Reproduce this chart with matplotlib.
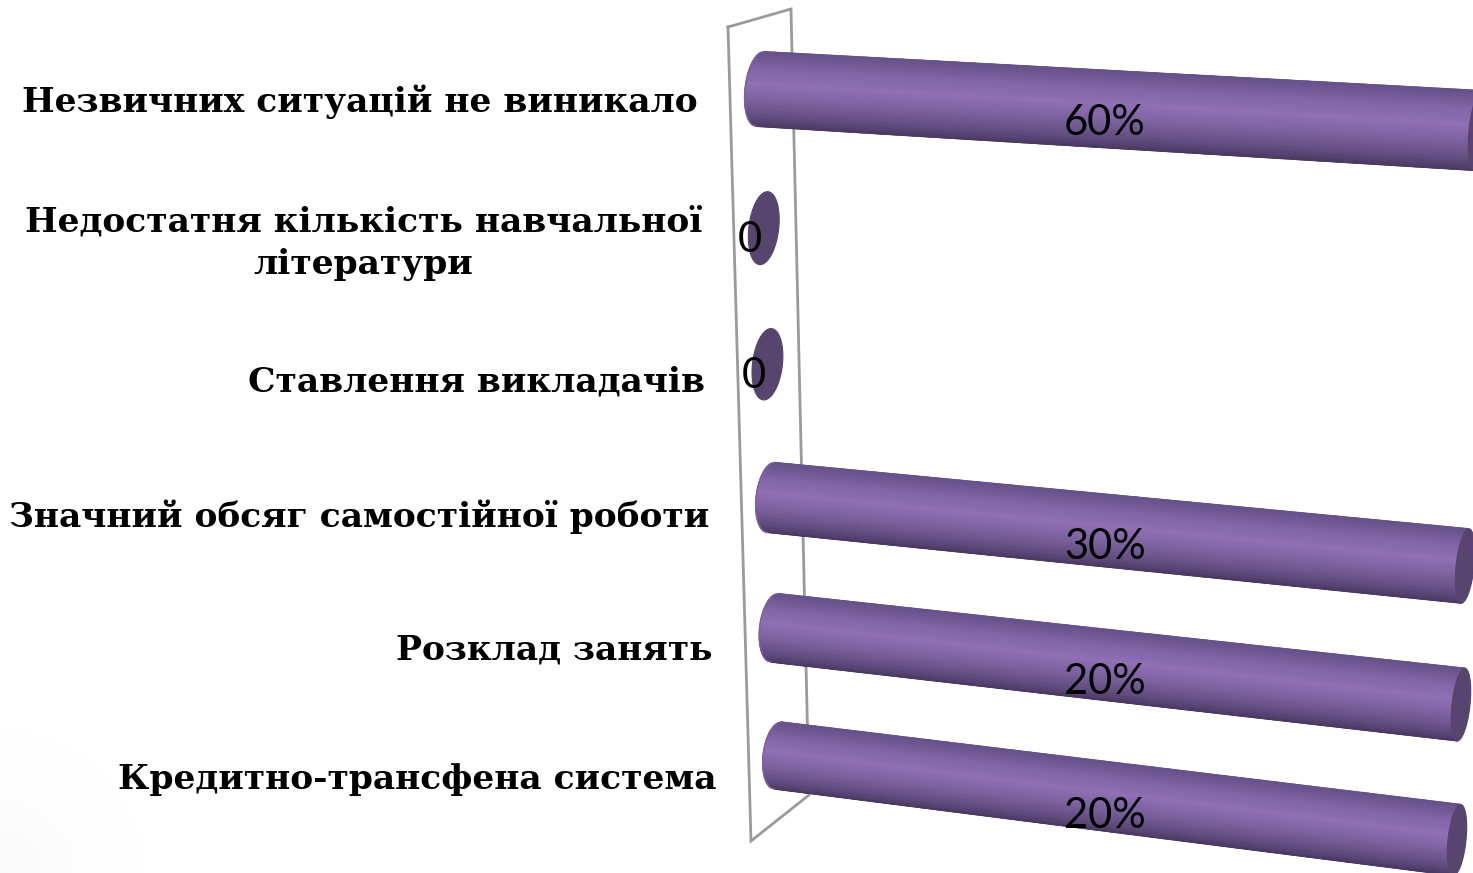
import numpy as np
import matplotlib
matplotlib.use("Agg")
import matplotlib.pyplot as plt
from matplotlib.colors import LinearSegmentedColormap

# top to bottom, same order as the slide
categories = [
    "Незвичних ситуацій не виникало",
    "Недостатня кількість навчальної\nлітератури",
    "Ставлення викладачів",
    "Значний обсяг самостійної роботи",
    "Розклад занять",
    "Кредитно-трансфена система",
]
values = [0.60, 0.0, 0.0, 0.30, 0.20, 0.20]
value_labels = ["60%", "0", "0", "30%", "20%", "20%"]

# the value axis stops at 20%, so longer bars get cut off there
AXIS_MAX = 0.2
N_ROWS = len(categories)

# where the corners of the 3d plot land on the picture: (share of axis, row) -> pixels
CORNERS = {
    (0, 0): (778, 755.5),
    (1, 0): (1457, 840),
    (0, 5): (760, 89),
    (1, 5): (1478, 130.5),
}
WALL = [(728, 27), (791, 9), (809, 795), (751, 841), (728, 27)]
BAR_RADIUS = 0.265
TILT = 0.1
# how far each value label sits under the middle of its bar
LABEL_DROP = [14, 10, 10, 16, 17, 20]

body_cmap = LinearSegmentedColormap.from_list(
    "cyl",
    [(0.0, "#4a3a63"), (0.12, "#5f4b7c"), (0.35, "#7c619f"), (0.58, "#9170b5"),
     (0.8, "#8163a6"), (1.0, "#66528a")],
)


def homography(corners):
    a, b = [], []
    for (s, r), (x, y) in corners.items():
        a.append([s, r, 1, 0, 0, 0, -s * x, -r * x])
        a.append([0, 0, 0, s, r, 1, -s * y, -r * y])
        b += [x, y]
    return np.append(np.linalg.solve(np.array(a, float), np.array(b, float)), 1).reshape(3, 3)


H = homography(CORNERS)


def project(s, r):
    s, r = np.asarray(s, float), np.asarray(r, float)
    w = H[2, 0] * s + H[2, 1] * r + H[2, 2]
    return (H[0, 0] * s + H[0, 1] * r + H[0, 2]) / w, (H[1, 0] * s + H[1, 1] * r + H[1, 2]) / w


def half_height(s, r):
    return (project(s, r - BAR_RADIUS)[1] - project(s, r + BAR_RADIUS)[1]) / 2


def half_width(s):
    return 15 - 6 * s


def draw_bar(ax, value, row):
    end = min(value, AXIS_MAX) / AXIS_MAX
    # cylinder side: left half of an ellipse swept along the bar
    if end > 0:
        t = np.linspace(0, end, 40)
        v = np.linspace(-1, 1, 81)
        T, V = np.meshgrid(t, v)
        cx, cy = project(T, np.full_like(T, row))
        hh = half_height(T, row)
        X = cx + V * hh * TILT - np.sqrt(1 - V ** 2) * half_width(T)
        Y = cy - V * hh
        ax.pcolormesh(X, Y, (V + 1) / 2, shading="gouraud", cmap=body_cmap,
                      vmin=0, vmax=1, zorder=3)
        ax.plot(X[0], Y[0], color="#4a3a63", lw=1, zorder=3)
        ax.plot(X[-1], Y[-1], color="#66528a", lw=1, zorder=3)
        ax.plot(X[:, 0], Y[:, 0], color="#7c619f", lw=1, zorder=3)
    # end cap
    a = np.linspace(0, 2 * np.pi, 100)
    cx, cy = project(end, row)
    hh = half_height(end, row)
    ax.fill(cx + np.sin(a) * hh * TILT + np.cos(a) * half_width(end),
            cy - np.sin(a) * hh, color="#57446f", lw=0.8, zorder=4)


fig = plt.figure(figsize=(14.73, 8.73), dpi=100)
ax = fig.add_axes([0, 0, 1, 1])

# faint slide shading in the lower left corner
yy, xx = np.mgrid[600:873:100j, 0:300:100j]
shade = np.clip(1 - np.hypot(xx, yy - 873) / 200, 0, 1) ** 2
ax.imshow(shade, extent=(0, 300, 873, 600), cmap="Greys", vmin=0, vmax=22,
          aspect="auto", zorder=0)
ax.set_xlim(0, 1473)
ax.set_ylim(873, 0)
ax.axis("off")

ax.plot(*zip(*WALL), color="#9a9a9a", lw=2, zorder=1, solid_joinstyle="miter")

for i, (name, value, label) in enumerate(zip(categories, values, value_labels)):
    row = N_ROWS - 1 - i
    draw_bar(ax, value, row)

    left_x, left_y = project(0, row)
    ax.text(left_x - 62, left_y + 12.5 + i * 2.4, name, ha="right", va="center",
            family="DejaVu Serif", weight="bold", fontsize=24.8, color="black",
            multialignment="center", linespacing=1.35, zorder=5)

    if value > 0:
        mid_y = project(0.5, row)[1]
        ax.text(1105, mid_y + LABEL_DROP[i], label, ha="center", va="center", family="Lato",
                fontsize=30, color="black", zorder=6)
    else:
        ax.text(left_x - 14, left_y + LABEL_DROP[i] + 2, label, ha="center", va="center",
                family="Lato", fontsize=30, color="black", zorder=6)

fig.savefig("out.png", dpi=100)
